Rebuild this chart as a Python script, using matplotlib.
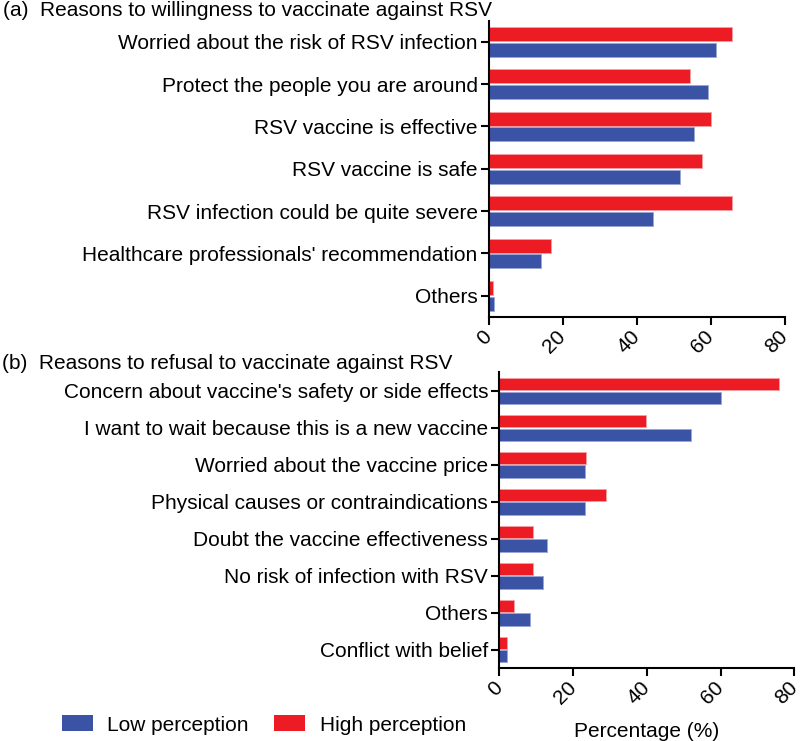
import matplotlib.pyplot as plt
from matplotlib.patches import Patch
import numpy as np

plt.rcParams['font.family'] = ['Liberation Sans', 'DejaVu Sans']
plt.rcParams['font.size'] = 15

# (a) reasons to be willing
cats_a = ["Worried about the risk of RSV infection",
          "Protect the people you are around",
          "RSV vaccine is effective",
          "RSV vaccine is safe",
          "RSV infection could be quite severe",
          "Healthcare professionals' recommendation",
          "Others"]
high_a = [65.6, 54.3, 60.0, 57.6, 65.7, 16.7, 1.1]
low_a = [61.3, 59.3, 55.4, 51.6, 44.5, 14.0, 1.5]

# (b) reasons to refuse
cats_b = ["Concern about vaccine's safety or side effects",
          "I want to wait because this is a new vaccine",
          "Worried about the vaccine price",
          "Physical causes or contraindications",
          "Doubt the vaccine effectiveness",
          "No risk of infection with RSV",
          "Others",
          "Conflict with belief"]
high_b = [75.7, 39.8, 23.6, 29.0, 9.2, 9.2, 3.9, 2.1]
low_b = [60.0, 52.0, 23.2, 23.1, 13.0, 11.8, 8.2, 2.1]

ticks = [0, 20, 40, 60, 80]

RED = '#ED1C24'
BLUE = '#3A53A4'

fig = plt.figure(figsize=(8, 7.41), dpi=100)


def draw_panel(ax, cats, high, low):
    y = np.arange(len(cats))
    ax.barh(y - 0.185, high, height=0.33, color=RED, edgecolor='#f5a0a3', linewidth=0.6)
    ax.barh(y + 0.185, low, height=0.33, color=BLUE, edgecolor='#9aa6d4', linewidth=0.6)
    ax.set_yticks(y)
    ax.set_yticklabels(cats)
    ax.set_ylim(len(cats) - 0.5, -0.5)
    ax.set_xlim(0, 80)
    ax.set_xticks(ticks)
    ax.set_xticklabels([str(t) for t in ticks], rotation=45, ha='right',
                       va='center', rotation_mode='anchor')
    for s in ['top', 'right']:
        ax.spines[s].set_visible(False)
    for s in ['left', 'bottom']:
        ax.spines[s].set_linewidth(1.5)
    ax.tick_params(width=1.5, length=6, labelsize=15, pad=2)
    ax.tick_params(axis='x', pad=6)


ax_a = fig.add_axes([0.611, 0.5722, 0.37, 0.4001])
draw_panel(ax_a, cats_a, high_a, low_a)

ax_b = fig.add_axes([0.6241, 0.0985, 0.369, 0.399])
draw_panel(ax_b, cats_b, high_b, low_b)
ax_b.set_xlabel("Percentage (%)", fontsize=15, labelpad=10)

fig.text(0.004, 1 - 11 / 741, "(a)  Reasons to willingness to vaccinate against RSV",
         fontsize=15, va='center', ha='left')
fig.text(0.002, 1 - 363 / 741, "(b)  Reasons to refusal to vaccinate against RSV",
         fontsize=15, va='center', ha='left')

handles = [Patch(facecolor=BLUE, label='Low perception'),
           Patch(facecolor=RED, label='High perception')]
fig.legend(handles=handles, loc='center left', bbox_to_anchor=(0.077, 0.0216),
           ncol=2, frameon=False, handlelength=1.5, handleheight=0.8,
           handletextpad=0.7, columnspacing=1.2, fontsize=15, borderpad=0,
           borderaxespad=0)

fig.savefig('out.png', dpi=100)
